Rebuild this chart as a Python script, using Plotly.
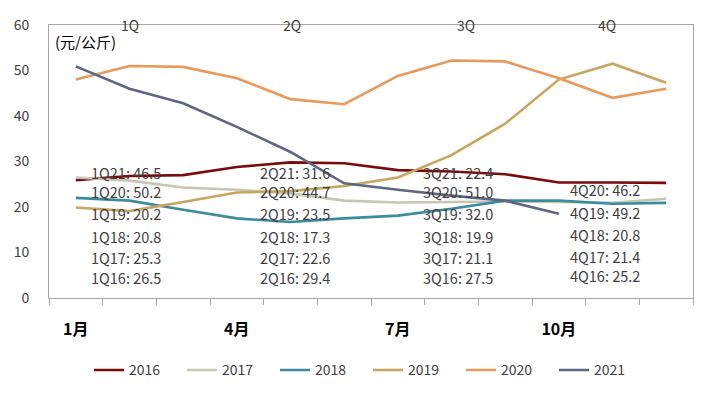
import plotly.graph_objects as go

months = list(range(1, 13))
month_labels = ["<b>1月</b>", "<b>4月</b>", "<b>7月</b>", "<b>10月</b>"]
month_label_pos = [1, 4, 7, 10]

years = ["2016", "2017", "2018", "2019", "2020", "2021"]
v2016 = [25.9, 26.8, 27.0, 28.8, 29.8, 29.6, 28.1, 27.8, 27.2, 25.4, 25.4, 25.3]
v2017 = [26.5, 25.8, 24.3, 23.8, 23.0, 21.4, 21.0, 21.1, 21.2, 21.1, 20.9, 21.8]
v2018 = [22.0, 21.4, 19.4, 17.5, 16.7, 17.5, 18.1, 19.6, 21.4, 21.4, 20.7, 20.9]
v2019 = [19.9, 19.1, 21.1, 23.2, 23.5, 24.6, 26.5, 31.4, 38.3, 48.0, 51.5, 47.3]
v2020 = [48.0, 51.0, 50.8, 48.3, 43.7, 42.6, 48.8, 52.2, 52.0, 48.3, 44.0, 46.0]
v2021 = [50.9, 46.0, 42.8, 37.6, 32.1, 25.2, 23.8, 22.5, 21.4, 18.5]
series = [v2016, v2017, v2018, v2019, v2020, v2021]
colors = ["#7B0B0B", "#C6C6B2", "#3A8C9E", "#C9A55E", "#E9995C", "#5E6683"]

quarters = ["1Q", "2Q", "3Q", "4Q"]
q_years = ["21", "20", "19", "18", "17", "16"]
q1_vals = ["46.5", "50.2", "20.2", "20.8", "25.3", "26.5"]
q2_vals = ["31.6", "44.7", "23.5", "17.3", "22.6", "29.4"]
q3_vals = ["22.4", "51.0", "32.0", "19.9", "21.1", "27.5"]
q4_vals = [None, "46.2", "49.2", "20.8", "21.4", "25.2"]
q_vals = [q1_vals, q2_vals, q3_vals, q4_vals]

fig = go.Figure()
for name, vals, col in zip(years, series, colors):
    fig.add_trace(go.Scatter(x=months[:len(vals)], y=vals, name=name, mode="lines",
                             line=dict(color=col, width=2.6)))

FONT = "Noto Sans CJK SC"
TXT = "#404040"

# page offset of 8px (body margin) is compensated in the margins/size
L, R, T, B = 41, 2, 17, 87
W, H = 687, 380
PW = W - L - R  # plot width

# quarter header labels
q_head_x = [2.0, 5.03, 8.27, 10.89]
for q, xv in zip(quarters, q_head_x):
    fig.add_annotation(x=xv, y=60, xref="x", yref="y", text=q, showarrow=False,
                       font=dict(family=FONT, size=14, color=TXT), xanchor="center", yanchor="middle")

# quarter value labels (left edge in final-page px)
col_left_px = [89, 258, 421, 568]
row_y = [27.6, 23.5, 18.5, 13.6, 8.9, 4.6]
for qi, (q, vals) in enumerate(zip(quarters, q_vals)):
    for ri, (yy, v) in enumerate(zip(q_years, vals)):
        if v is None:
            continue
        ypos = row_y[ri] + (0.3 if qi == 3 else 0)
        fig.add_annotation(x=(col_left_px[qi] - 8 - L) / PW, y=ypos, xref="paper", yref="y",
                           text=f"{q}{yy}: {v}", showarrow=False, xanchor="left", yanchor="middle",
                           font=dict(family=FONT, size=14.5, color=TXT))

fig.add_annotation(x=0.006, y=(301 - 42) / 276, xref="paper", yref="paper", text="(元/公斤)",
                   showarrow=False, xanchor="left", yanchor="middle",
                   font=dict(family=FONT, size=15, color="#000000"))

fig.update_layout(
    width=W, height=H,
    margin=dict(l=L, r=R, t=T, b=B),
    paper_bgcolor="white", plot_bgcolor="white",
    font=dict(family=FONT, color=TXT),
    showlegend=True,
    legend=dict(orientation="h", x=(89 - 8 - L) / PW, y=-0.265, xanchor="left", yanchor="middle",
                font=dict(family=FONT, size=14, color=TXT), entrywidth=48, entrywidthmode="pixels"),
    xaxis=dict(range=[0.5, 12.5], tickvals=month_label_pos, ticktext=month_labels,
               ticks="outside", ticklen=17, tickcolor="rgba(0,0,0,0)",
               tickfont=dict(family=FONT, size=16, color="#000000"),
               showgrid=False, zeroline=False, showline=True, linecolor="#A6A6A6", linewidth=1,
               mirror=True, automargin=False,
               minor=dict(tickvals=[m + 0.5 for m in range(0, 13)], ticks="outside", ticklen=6,
                          tickcolor="#A6A6A6", showgrid=False)),
    yaxis=dict(range=[0, 60], tickvals=[0, 10, 20, 30, 40, 50, 60], ticks="outside", ticklen=16,
               tickcolor="rgba(0,0,0,0)", tickfont=dict(family=FONT, size=14, color=TXT),
               showgrid=False, zeroline=False, showline=True, linecolor="#A6A6A6", linewidth=1,
               mirror=True, automargin=False),
)

fig.write_html("out.html")
